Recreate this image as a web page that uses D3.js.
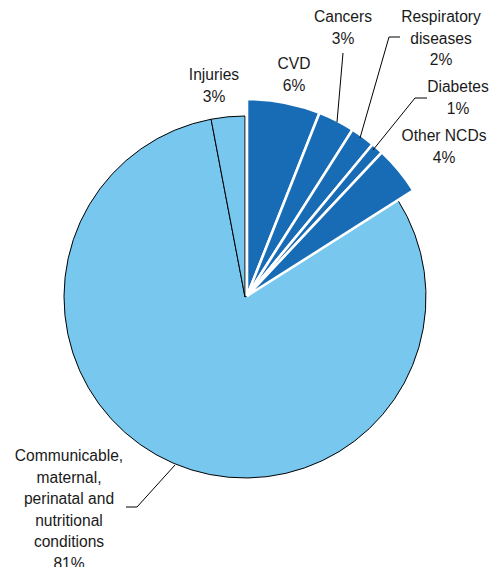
<!DOCTYPE html>
<html><head><meta charset="utf-8">
<script src="https://cdn.jsdelivr.net/npm/d3@7"></script>
<style>body{margin:0;background:#fff}svg{display:block}</style>
</head><body>
<script>
const categories = ["CVD","Cancers","Respiratory diseases","Diabetes","Other NCDs","Communicable, maternal, perinatal and nutritional conditions","Injuries"];
const values = [6,3,2,1,4,81,3];
const groups = ["ncd","ncd","ncd","ncd","ncd","other","other"];
const labelLines = [["CVD","6%"],["Cancers","3%"],["Respiratory","diseases","2%"],["Diabetes","1%"],["Other NCDs","4%"],["Communicable,","maternal,","perinatal and","nutritional","conditions","81%"],["Injuries","3%"]];

const W=494,H=567, cx=245, cy=297, R=181, Rd=197;
const svg=d3.select("body").append("svg").attr("width",W).attr("height",H);
const pie=d3.pie().sort(null).value(d=>d.v).startAngle(0).endAngle(2*Math.PI);
const data=pie(values.map((v,i)=>({v,i,g:groups[i]})));
const g=svg.append("g").attr("transform",`translate(${cx},${cy})`);
const arcL=d3.arc().innerRadius(0).outerRadius(R);
const arcD=d3.arc().innerRadius(0).outerRadius(Rd);
g.selectAll("path.l").data(data.filter(d=>d.data.g==="other")).join("path")
 .attr("d",arcL).attr("fill","#78c7ef").attr("stroke","#000").attr("stroke-width",1).attr("stroke-linejoin","round");
g.append("g").attr("transform","translate(2,-1)").selectAll("path.d").data(data.filter(d=>d.data.g==="ncd")).join("path")
 .attr("d",arcD).attr("fill","#186bb5").attr("stroke","#fff").attr("stroke-width",2.6).attr("stroke-linejoin","miter");

// label layout (x center, y of first baseline)
const layout=[{x:294,y:69},{x:343,y:22},{x:441,y:22},{x:458,y:92},{x:444,y:141},{x:69,y:461},{x:214,y:80}];
const lh=21.5;
categories.forEach((c,i)=>{
  const t=svg.append("text").attr("text-anchor","middle").attr("font-family","Liberation Sans, Arial, sans-serif").attr("font-size",15.6).attr("fill","#1a1a1a");
  labelLines[i].forEach((s,k)=>t.append("tspan").attr("x",layout[i].x).attr("y",layout[i].y+k*lh).text(s));
});
const leaders=[[[343,53],[337,122]],[[400,37],[389,37],[360,138]],[[427,98],[415,98],[373,150]],[[126,507],[137,507],[175,465]]];
const line=d3.line();
leaders.forEach(p=>svg.append("path").attr("d",line(p)).attr("fill","none").attr("stroke","#000").attr("stroke-width",1));
</script>
</body></html>
